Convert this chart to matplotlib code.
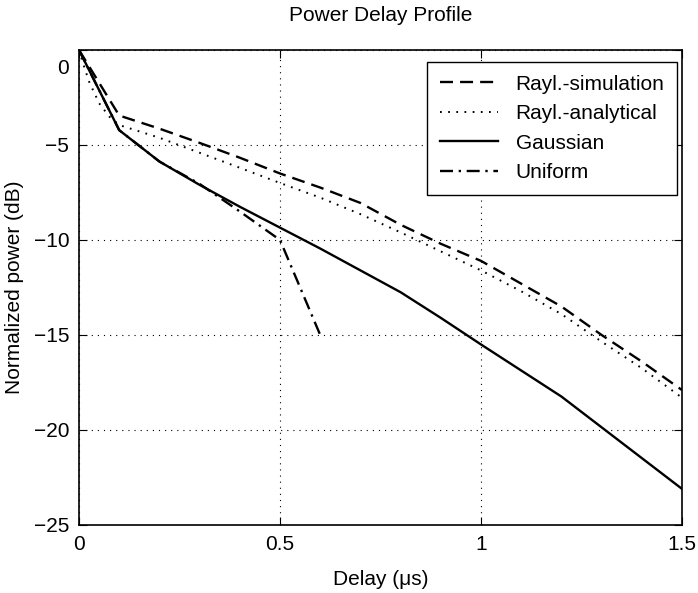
import matplotlib
matplotlib.use('Agg')
import matplotlib.pyplot as plt
from matplotlib.transforms import ScaledTranslation

plt.rcParams['font.family'] = ['Liberation Sans', 'DejaVu Sans']
plt.rcParams['font.size'] = 15

# delay (us) and normalized power (dB)
delay = [0.0, 0.1, 0.2, 0.3, 0.4, 0.5, 0.6, 0.7, 0.8, 0.9, 1.0, 1.1, 1.2, 1.3, 1.4, 1.5]
rayl_sim = [0.0, -3.45, -4.14, -4.89, -5.67, -6.5, -7.24, -8.05, -9.2, -10.2,
            -11.1, -12.3, -13.5, -15.0, -16.4, -17.9]
delay_an = [0.0, 0.01, 0.025, 0.05, 0.075, 0.1, 0.2, 0.3, 0.4, 0.5, 0.6, 0.7,
            0.8, 0.9, 1.0, 1.1, 1.2, 1.3, 1.4, 1.5]
rayl_an = [0.0, -0.7, -1.66, -2.8, -3.5, -3.95, -4.62, -5.41, -6.2, -7.0, -7.77,
           -8.64, -9.6, -10.6, -11.6, -12.7, -13.9, -15.35, -16.75, -18.3]
gaussian = [0.0, -4.22, -5.87, -7.1, -8.25, -9.35, -10.45, -11.6, -12.75, -14.1,
            -15.5, -16.87, -18.24, -19.86, -21.48, -23.1]
delay_uni = [0.0, 0.1, 0.2, 0.3, 0.4, 0.5, 0.6]
uniform = [0.0, -4.22, -5.87, -7.05, -8.5, -10.0, -15.0]

xticks = [0, 0.5, 1, 1.5]
yticks = [-25, -20, -15, -10, -5, 0]

fig = plt.figure(figsize=(6.98, 5.93), dpi=100)
ax = fig.add_axes([0.1132, 0.1147, 0.8639, 0.8010])

lw = 1.7
ax.plot(delay, rayl_sim, color='black', lw=lw, dashes=(5.5, 3.0), label='Rayl.-simulation')
ax.plot(delay_an, rayl_an, color='black', lw=1.4, dashes=(0.9, 3.3), label='Rayl.-analytical')
ax.plot(delay, gaussian, color='black', lw=lw, label='Gaussian')
ax.plot(delay_uni, uniform, color='black', lw=lw, dashes=(5.5, 2.4, 1.0, 2.4), label='Uniform')

ax.set_xlim(0, 1.5)
ax.set_ylim(-25, 0)
ax.set_xticks(xticks)
ax.set_xticklabels(['0', '0.5', '1', '1.5'])
ax.set_yticks(yticks)
ax.set_yticklabels(['\u221225', '\u221220', '\u221215', '\u221210', '\u22125', '0'])
ax.grid(True, color='black', lw=0.8, linestyle=(0, (1, 4.5)))
ax.tick_params(direction='in', length=6, width=0.8, top=True, right=True,
               pad=7, labelsize=15)
for s in ax.spines.values():
    s.set_linewidth(1.2)

# the "0" label sits a bit below its tick in the reference
lab0 = ax.get_yticklabels()[-1]
lab0.set_transform(lab0.get_transform() + ScaledTranslation(0, -0.17, fig.dpi_scale_trans))

ax.set_title('Power Delay Profile', fontsize=15, pad=21)
ax.set_xlabel('Delay (\u03bcs)', fontsize=15, labelpad=12)
ax.set_ylabel('Normalized power (dB)', fontsize=15)
ax.yaxis.set_label_coords(-0.091, 0.5)

leg = ax.legend(loc='upper right', bbox_to_anchor=(0.9917, 0.9747), borderaxespad=0,
                fancybox=False, framealpha=1, edgecolor='black', handlelength=2.8,
                handletextpad=0.85, labelspacing=0.51, borderpad=0.6, fontsize=15)
leg.get_frame().set_linewidth(1.0)

fig.savefig('out.png', dpi=100)
